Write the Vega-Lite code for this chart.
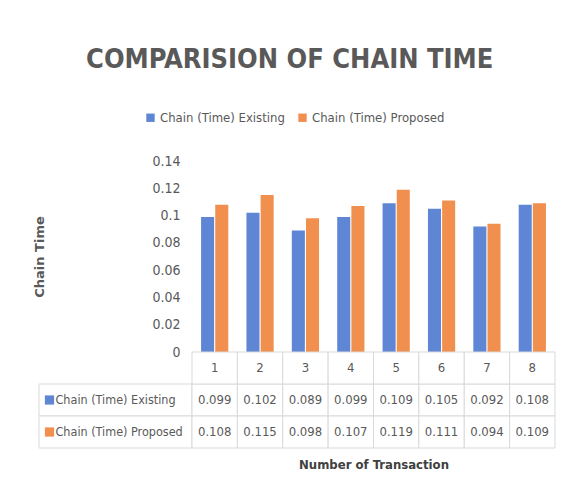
{
  "$schema": "https://vega.github.io/schema/vega-lite/v6.json",
  "background": "white",
  "padding": {"left": 33, "top": 46, "right": 0, "bottom": 0},
  "title": {"text": "COMPARISION OF CHAIN TIME", "fontSize": 27, "fontWeight": "bold", "color": "#595959", "anchor": "middle", "offset": 37, "dx": -5},
  "datasets": {
    "d": [
      {"cat": 1, "series": "Chain (Time) Existing", "value": 0.099},
      {"cat": 2, "series": "Chain (Time) Existing", "value": 0.102},
      {"cat": 3, "series": "Chain (Time) Existing", "value": 0.089},
      {"cat": 4, "series": "Chain (Time) Existing", "value": 0.099},
      {"cat": 5, "series": "Chain (Time) Existing", "value": 0.109},
      {"cat": 6, "series": "Chain (Time) Existing", "value": 0.105},
      {"cat": 7, "series": "Chain (Time) Existing", "value": 0.092},
      {"cat": 8, "series": "Chain (Time) Existing", "value": 0.108},
      {"cat": 1, "series": "Chain (Time) Proposed", "value": 0.108},
      {"cat": 2, "series": "Chain (Time) Proposed", "value": 0.115},
      {"cat": 3, "series": "Chain (Time) Proposed", "value": 0.098},
      {"cat": 4, "series": "Chain (Time) Proposed", "value": 0.107},
      {"cat": 5, "series": "Chain (Time) Proposed", "value": 0.119},
      {"cat": 6, "series": "Chain (Time) Proposed", "value": 0.111},
      {"cat": 7, "series": "Chain (Time) Proposed", "value": 0.094},
      {"cat": 8, "series": "Chain (Time) Proposed", "value": 0.109}
    ]
  },
  "columns": 2,
  "spacing": {"row": 0, "column": 0},
  "bounds": "flush",
  "align": "each",
  "resolve": {"scale": {"color": "independent"}, "legend": {"color": "independent"}},
  "concat": [
    {
      "width": 153, "height": 191,
      "data": {"values": [{"t": ""}]},
      "mark": {"type": "text"},
      "encoding": {"text": {"field": "t"}}
    },
    {
      "width": 363, "height": 191,
      "data": {"name": "d"},
      "mark": {"type": "bar"},
      "encoding": {
        "x": {"field": "cat", "type": "ordinal", "axis": null, "scale": {"paddingInner": 0.4, "paddingOuter": 0.2}},
        "xOffset": {"field": "series", "scale": {"paddingInner": 0.08}},
        "y": {"field": "value", "type": "quantitative", "scale": {"domain": [0, 0.14]},
          "axis": {"values": [0, 0.02, 0.04, 0.06, 0.08, 0.1, 0.12, 0.14], "format": "~g", "grid": false, "ticks": false, "domain": false,
            "labelPadding": 12, "labelFontSize": 14, "labelColor": "#595959",
            "title": "Chain Time", "titleFontSize": 13, "titleFontWeight": "bold", "titleColor": "#595959", "titleFont": "DejaVu Sans", "titlePadding": 105}},
        "color": {"field": "series", "type": "nominal",
          "scale": {"domain": ["Chain (Time) Existing", "Chain (Time) Proposed"], "range": ["#5e86d5", "#f18f4e"]},
          "legend": {"orient": "none", "legendX": -48, "legendY": -50, "direction": "horizontal", "title": null, "symbolType": "square", "symbolSize": 70, "labelFontSize": 13, "labelColor": "#595959", "columnPadding": 11, "labelOffset": 3}}
      }
    },
    {
      "width": 153, "height": 96,
      "data": {"name": "d"},
      "transform": [{"filter": "datum.cat == 1"}],
      "encoding": {
        "y": {"field": "series", "type": "nominal", "scale": {"domain": ["h", "Chain (Time) Existing", "Chain (Time) Proposed"], "paddingInner": 0, "paddingOuter": 0}, "axis": null}
      },
      "layer": [
        {"mark": {"type": "rect", "fill": "white", "stroke": "#d9d9d9", "strokeWidth": 1}},
        {"mark": {"type": "point", "shape": "square", "filled": true, "size": 85, "xOffset": -66, "opacity": 1},
          "encoding": {"color": {"field": "series", "type": "nominal", "scale": {"domain": ["Chain (Time) Existing", "Chain (Time) Proposed"], "range": ["#5e86d5", "#f18f4e"]}, "legend": null}}},
        {"mark": {"type": "text", "align": "left", "dx": -60, "fontSize": 12.5, "color": "#595959"},
          "encoding": {"text": {"field": "series"}}}
      ]
    },
    {
      "width": 363, "height": 96,
      "data": {"name": "d"},
      "encoding": {
        "x": {"field": "cat", "type": "ordinal", "scale": {"paddingInner": 0, "paddingOuter": 0},
          "axis": {"title": "Number of Transaction", "labels": false, "ticks": false, "domain": false, "titlePadding": 10, "titleFontSize": 13, "titleFontWeight": "bold", "titleColor": "#404040"}}
      },
      "layer": [
        {"mark": {"type": "rect", "fill": "white", "stroke": "#d9d9d9", "strokeWidth": 1},
          "encoding": {"y": {"field": "series", "type": "nominal", "scale": {"domain": ["h", "Chain (Time) Existing", "Chain (Time) Proposed"], "paddingInner": 0, "paddingOuter": 0}, "axis": null}}},
        {"transform": [{"filter": "datum.series == 'Chain (Time) Existing'"}],
          "mark": {"type": "rect", "fill": "white", "stroke": "#d9d9d9", "strokeWidth": 1},
          "encoding": {"y": {"datum": "h"}}},
        {"mark": {"type": "text", "fontSize": 13, "color": "#595959"},
          "encoding": {"y": {"field": "series", "type": "nominal"}, "text": {"field": "value", "type": "quantitative", "format": ".3f"}}},
        {"transform": [{"filter": "datum.series == 'Chain (Time) Existing'"}],
          "mark": {"type": "text", "fontSize": 13, "color": "#595959"},
          "encoding": {"y": {"datum": "h"}, "text": {"field": "cat", "type": "ordinal"}}}
      ]
    }
  ],
  "config": {
    "view": {"stroke": null},
    "font": "DejaVu Sans Condensed, Liberation Sans, sans-serif"
  }
}
